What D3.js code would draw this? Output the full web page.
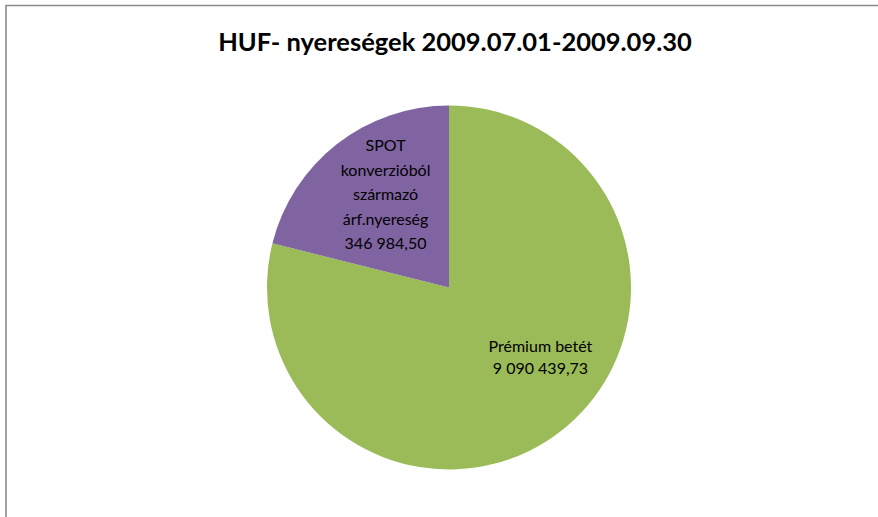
<!DOCTYPE html>
<html>
<head>
<meta charset="utf-8">
<script src="https://cdn.jsdelivr.net/npm/d3@7"></script>
<style>
  body { margin: 0; background: #fff; }
  svg { display: block; }
</style>
</head>
<body>
<svg width="878" height="517"></svg>
<script>
// data
const categories = ["Prémium betét", "SPOT konverzióból származó árf.nyereség"];
const labelLines = [
  ["Prémium betét", "9 090 439,73"],
  ["SPOT", "konverzióból", "származó", "árf.nyereség", "346 984,50"]
];
// slice shares as drawn in the picture (percent)
const shares = [78.9, 21.1];
const colors = ["#9BBB59", "#8064A2"];

const title = "HUF- nyereségek 2009.07.01-2009.09.30";

const svg = d3.select("svg");
const font = "Lato, 'Open Sans', sans-serif";

// chart frame (only top and left edges visible)
svg.append("path")
  .attr("d", "M6,520 V5.5 H880")
  .attr("fill", "none")
  .attr("stroke", "#8a8a8a")
  .attr("stroke-width", 1.6);

svg.append("text")
  .attr("x", 455)
  .attr("y", 51)
  .attr("text-anchor", "middle")
  .style("font-family", font)
  .style("font-weight", "bold")
  .style("font-size", "25.5px")
  .attr("fill", "#000")
  .text(title);

const cx = 449, cy = 287.5, r = 182;

const pie = d3.pie().sort(null).value(d => d);
const arcs = pie(shares);
const arc = d3.arc().innerRadius(0).outerRadius(r);

const g = svg.append("g").attr("transform", `translate(${cx},${cy})`);

g.selectAll(".slice")
  .data(arcs)
  .enter()
  .append("path")
  .classed("slice", true)
  .attr("d", arc)
  .attr("fill", (d, i) => colors[i]);

// label placement
const labelArc = d3.arc().innerRadius(r * 0.62).outerRadius(r * 0.62);
const nudge = [[22, -19], [6, -4]];
const lineH = [22, 24.5];

const labels = g.selectAll(".lbl")
  .data(arcs)
  .enter()
  .append("text")
  .classed("lbl", true)
  .attr("text-anchor", "middle")
  .style("font-family", font)
  .style("font-size", "16px")
  .attr("fill", "#000")
  .attr("transform", (d, i) => {
    const c = labelArc.centroid(d);
    return `translate(${c[0] + nudge[i][0]},${c[1] + nudge[i][1]})`;
  });

labels.each(function (d, i) {
  const lines = labelLines[i];
  const n = lines.length;
  d3.select(this).selectAll("tspan")
    .data(lines)
    .enter()
    .append("tspan")
    .attr("x", 0)
    .attr("y", (t, k) => (k - (n - 1) / 2) * lineH[i] + 5.5)
    .text(t => t);
});
</script>
</body>
</html>
